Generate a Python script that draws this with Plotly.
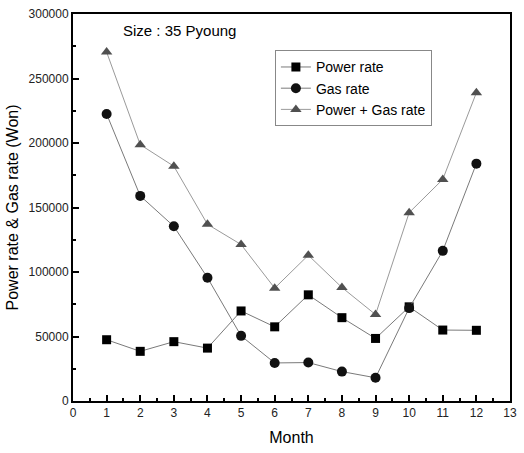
import plotly.graph_objects as go

months = [1, 2, 3, 4, 5, 6, 7, 8, 9, 10, 11, 12]
power_rate = [47500, 38500, 46000, 41000, 69800, 57500, 82300, 64600, 48500, 73000, 55000, 54800]
gas_rate = [222500, 159000, 135400, 95600, 50500, 29500, 29800, 22800, 18000, 72000, 116400, 184000]
total_rate = [270500, 198700, 182000, 137000, 121300, 87500, 113000, 88000, 67000, 146000, 171800, 239000]

FONT = "Liberation Sans Narrow, Liberation Sans, Arial, sans-serif"

fig = go.Figure()
fig.add_trace(go.Scatter(x=months, y=power_rate, name="Power rate", mode="lines+markers",
                         line=dict(color="#7a7a7a", width=1),
                         marker=dict(symbol="square", size=9, color="#000000")))
fig.add_trace(go.Scatter(x=months, y=gas_rate, name="Gas rate", mode="lines+markers",
                         line=dict(color="#7a7a7a", width=1),
                         marker=dict(symbol="circle", size=10, color="#111111")))
fig.add_trace(go.Scatter(x=months, y=total_rate, name="Power + Gas rate", mode="lines+markers",
                         line=dict(color="#9a9a9a", width=1),
                         marker=dict(symbol="triangle-up", size=10, color="#505050")))

fig.add_annotation(text="Size : 35 Pyoung", xref="paper", yref="paper", x=0.11, y=0.985,
                   xanchor="left", yanchor="top", showarrow=False,
                   font=dict(family=FONT, size=15, color="#000"))

axis_common = dict(showline=True, linecolor="#000", linewidth=2, mirror=True,
                   ticks="inside", ticklen=6, tickwidth=1.5, tickcolor="#000",
                   showgrid=False, zeroline=False,
                   tickfont=dict(family=FONT, size=12, color="#222"))

fig.update_xaxes(range=[0, 13], dtick=1, tick0=0,
                 minor=dict(ticks="inside", ticklen=3, dtick=0.5, tick0=0, tickcolor="#000"),
                 title=dict(text="Month", font=dict(family=FONT, size=16, color="#000"), standoff=12),
                 **axis_common)
fig.update_yaxes(range=[0, 300000], dtick=50000, tick0=0, tickformat="d",
                 minor=dict(ticks="inside", ticklen=3, dtick=25000, tick0=0, tickcolor="#000"),
                 title=dict(text="Power rate & Gas rate (Won)", font=dict(family=FONT, size=16, color="#000"), standoff=6),
                 **axis_common)

fig.update_layout(
    width=524, height=453,
    margin=dict(l=73, r=7, t=11, b=52),
    plot_bgcolor="#fff", paper_bgcolor="#fff",
    showlegend=True,
    legend=dict(x=0.462, y=0.906, xanchor="left", yanchor="top",
                bgcolor="rgba(255,255,255,1)", bordercolor="#888", borderwidth=1,
                font=dict(family=FONT, size=14, color="#000"),
                tracegroupgap=0, itemwidth=30),
)

fig.write_html("out.html")
